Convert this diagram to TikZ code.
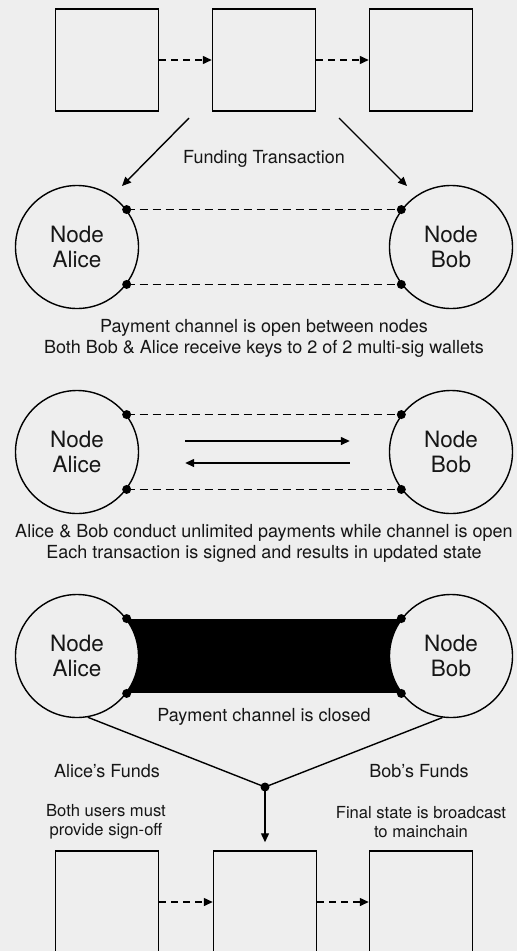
\documentclass[tikz,border=0pt]{standalone}
\usepackage{fontspec}
\setmainfont{TeX Gyre Heros}
\usetikzlibrary{arrows.meta,backgrounds}
\definecolor{pagebg}{HTML}{EEEEEE}
\definecolor{inkgray}{HTML}{161616}

\begin{document}
\begin{tikzpicture}[x=1pt, y=-1pt,
    block/.style={draw, line width=1.5pt, minimum width=103pt,
                  minimum height=102pt, inner sep=0pt},
    peer/.style={circle, draw, line width=1.4pt, fill=pagebg,
                 minimum size=123pt, inner sep=0pt, align=center,
                 font=\fontsize{22.5}{25}\selectfont, text=inkgray},
    chainarr/.style={-{Triangle[length=9pt,width=8pt]}, line width=1.5pt,
                     dash pattern=on 7pt off 5pt},
    flowarr/.style={-{Triangle[length=9pt,width=8pt]}, line width=1.4pt},
    link/.style={line width=1.3pt, dash pattern=on 8pt off 5pt},
    pin/.style={fill=black},
    caption/.style={align=center, text=inkgray,
                    font=\fontsize{18}{21}\selectfont},
    note/.style={align=center, text=inkgray,
                 font=\fontsize{16.6}{19}\selectfont}]
    \useasboundingbox (0,0) rectangle (517,951);
    \begin{scope}[on background layer]
      \fill[pagebg] (0,0) rectangle (517,951);
    \end{scope}

    % main chain before opening
    \node[block] (blk1) at (107,60) {};
    \node[block] (blk2) at (264,60) {};
    \node[block] (blk3) at (421,60) {};
    \draw[chainarr] (blk1) -- (blk2);
    \draw[chainarr] (blk2) -- (blk3);

    % funding
    \coordinate (fundA0) at (189,118);
    \coordinate (fundA1) at (122,186);
    \coordinate (fundB0) at (339,118);
    \coordinate (fundB1) at (407,186);
    \draw[flowarr] (fundA0) -- (fundA1);
    \draw[flowarr] (fundB0) -- (fundB1);
    \node[caption] (funding) at (264,159) {Funding Transaction};

    % stage 1: channel open
    \node[peer] (alice1) at (77,247) {Node\\Alice};
    \node[peer] (bob1) at (451,247) {Node\\Bob};
    \draw[link] (alice1.37) -- (bob1.143);
    \draw[link] (alice1.-37) -- (bob1.-143);
    \foreach \p in {alice1.37, alice1.-37, bob1.143, bob1.-143}
      \fill[pin] (\p) circle[radius=4.5pt];
    \node[caption] (open) at (264,338)
      {Payment channel is open between nodes\\
       Both Bob \& Alice receive keys to 2 of 2 multi-sig wallets};

    % stage 2: payments
    \node[peer] (alice2) at (77,452) {Node\\Alice};
    \node[peer] (bob2) at (451,452) {Node\\Bob};
    \draw[link] (alice2.37) -- (bob2.143);
    \draw[link] (alice2.-37) -- (bob2.-143);
    \foreach \p in {alice2.37, alice2.-37, bob2.143, bob2.-143}
      \fill[pin] (\p) circle[radius=4.5pt];
    \draw[flowarr] ([shift={(46,-11)}]alice2.east) -- ([shift={(-39,-11)}]bob2.west);
    \draw[flowarr] ([shift={(-39,11)}]bob2.west) -- ([shift={(46,11)}]alice2.east);
    \node[caption] (pay) at (264,543)
      {Alice \& Bob conduct unlimited payments while channel is open\\
       Each transaction is signed and results in updated state};

    % stage 3: channel closed
    \begin{scope}[on background layer]
      \fill (126,619) rectangle (403,693);
    \end{scope}
    \node[peer] (alice3) at (77,656) {Node\\Alice};
    \node[peer] (bob3) at (451,656) {Node\\Bob};
    \foreach \p in {alice3.37, alice3.-37, bob3.143, bob3.-143}
      \fill[pin] (\p) circle[radius=4.5pt];
    \node[caption] (closed) at (264,717) {Payment channel is closed};

    % settlement
    \coordinate (merge) at (265,787);
    \draw[line width=1.4pt] (alice3.-80) -- (merge) -- (bob3.-98);
    \fill[pin] (merge) circle[radius=4.5pt];
    \node[caption] (fundsA) at (107,771) {Alice’s Funds};
    \node[caption] (fundsB) at (419,771) {Bob’s Funds};
    \node[note] (signoff) at (106,822) {Both users must\\provide sign-off};
    \node[note] (bcast) at (421,822) {Final state is broadcast\\to mainchain};

    % main chain after closing
    \node[block] (end1) at (107,902) {};
    \node[block] (end2) at (265,902) {};
    \node[block] (end3) at (421,902) {};
    \draw[chainarr] (end1) -- (end2);
    \draw[chainarr] (end2) -- (end3);
    \draw[flowarr, shorten >=8pt] (merge) -- (end2.north);
\end{tikzpicture}
\end{document}
